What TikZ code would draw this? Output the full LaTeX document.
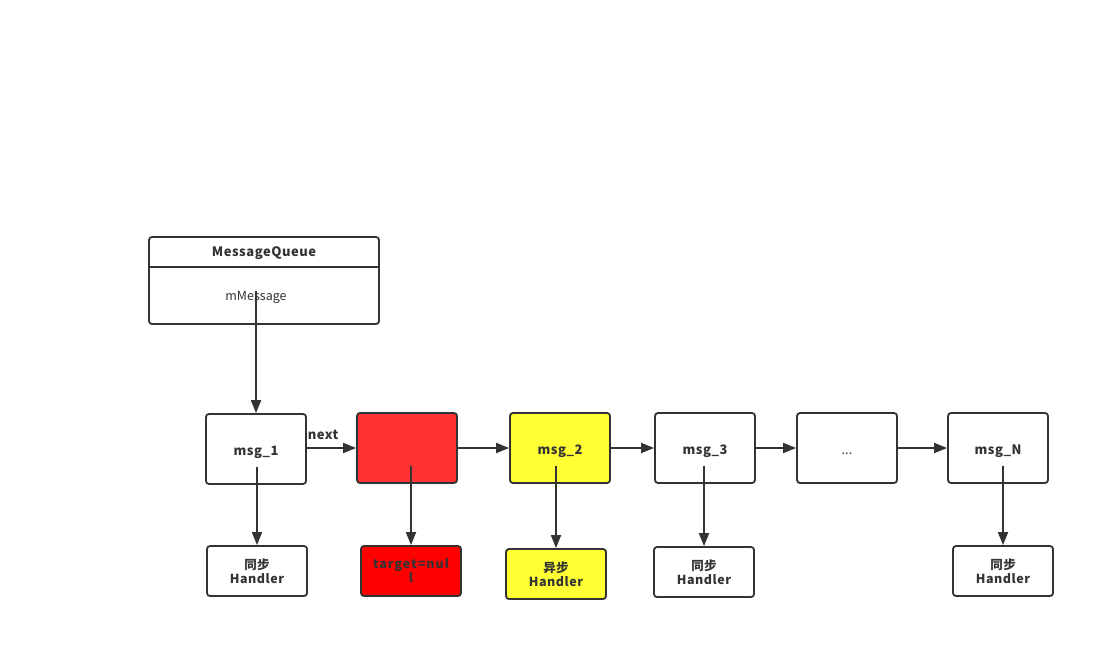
\documentclass[tikz,border=0pt]{standalone}
\usepackage{fontspec}
\setmainfont{Noto Sans CJK SC}
\usetikzlibrary{arrows.meta,positioning,calc}
\definecolor{edge}{HTML}{333333}
\definecolor{msgred}{HTML}{FF3333}
\definecolor{nullred}{HTML}{FF0000}
\definecolor{asyncyel}{HTML}{FFFF33}
\tikzset{
  msgbox/.style={draw=edge, line width=1.8pt, rounded corners=3pt, minimum width=100pt, minimum height=70pt, font=\fontsize{13}{16}\selectfont\bfseries\addfontfeatures{LetterSpace=4}, text=edge, inner sep=0pt, text height=14pt, text depth=2pt},
  handlerbox/.style={draw=edge, line width=1.8pt, rounded corners=3pt, minimum width=100pt, minimum height=50pt, font=\fontsize{12.5}{14}\selectfont\bfseries\addfontfeatures{LetterSpace=4}, text=edge, align=center, inner sep=0pt},
  link/.style={-{Triangle[length=13pt,width=10pt]}, draw=edge, fill=edge, line width=1.8pt},
  label/.style={font=\fontsize{13}{16}\selectfont\bfseries\addfontfeatures{LetterSpace=4}, text=edge, inner sep=0pt}
}

\begin{document}
\begin{tikzpicture}[x=1pt,y=-1pt]
  \useasboundingbox (0,0) rectangle (1115,661);
  % message queue
  \draw[edge, line width=1.8pt, rounded corners=3pt] (149,237) rectangle (379,324);
  \draw[edge, line width=1.8pt] (149,267) -- (379,267);
  \node[label] (mq) at (264,253) {MessageQueue};
  \node[font=\fontsize{12.5}{14}\selectfont, text=edge, inner sep=0pt] (mm) at (256,297) {mMessage};
  % message chain
  \node[msgbox] (m1) at (256,449) {msg\_1};
  \node[msgbox, fill=msgred] (bar) at (407,448) {};
  \node[msgbox, fill=asyncyel] (m2) at (560,448) {msg\_2};
  \node[msgbox] (m3) at (705,448) {msg\_3};
  \node[msgbox, font=\fontsize{13}{16}\selectfont] (dots) at (847,448) {...};
  \node[msgbox] (mN) at (998,448) {msg\_N};
  % handlers
  \node[handlerbox] (h1) at (257,571) {同步\\Handler};
  \node[handlerbox, fill=nullred, font=\fontsize{12.5}{12}\selectfont\bfseries\addfontfeatures{LetterSpace=8}] (hbar) at (411,571) {target=nul\\l};
  \node[handlerbox, fill=asyncyel] (h2) at (556,574) {异步\\Handler};
  \node[handlerbox] (h3) at (704,572) {同步\\Handler};
  \node[handlerbox] (hN) at (1003,571) {同步\\Handler};
  % links
  \draw[link] (mm.north) -- (mm.north |- m1.north);
  \draw[link] (m1.east |- bar.west) -- (bar.west) node[label, pos=0.33, above=7pt] (nx) {next};
  \draw[link] (bar) -- (m2);
  \draw[link] (m2) -- (m3);
  \draw[link] (m3) -- (dots);
  \draw[link] (dots) -- (mN);
  \foreach \m/\h in {m1/h1,bar/hbar,m2/h2,m3/h3,mN/hN}
    \draw[link] ($(\h.north |- \m.south)+(0,-18)$) -- (\h.north);
\end{tikzpicture}
\end{document}
